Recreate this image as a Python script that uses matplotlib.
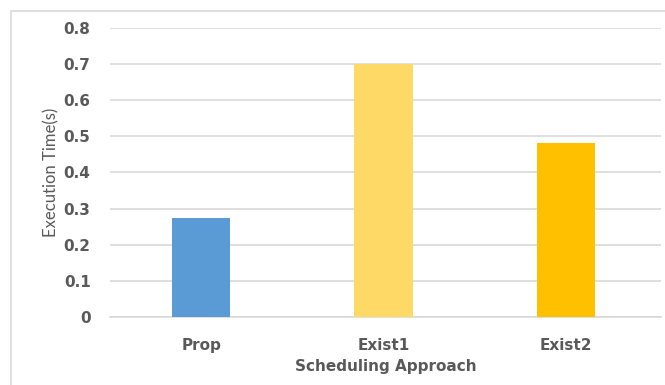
import matplotlib.pyplot as plt
from matplotlib.patches import Rectangle

approaches = ["Prop", "Exist1", "Exist2"]
exec_time = [0.273, 0.700, 0.481]
bar_colors = ["#5B9BD5", "#FFD966", "#FFC000"]
yticks = [0, 0.1, 0.2, 0.3, 0.4, 0.5, 0.6, 0.7, 0.8]
ytick_labels = ["0", "0.1", "0.2", "0.3", "0.4", "0.5", "0.6", "0.7", "0.8"]

plt.rcParams["font.family"] = ["DejaVu Sans"]
text_color = "#595959"

fig = plt.figure(figsize=(6.65, 3.85), dpi=100)
ax = fig.add_axes([110 / 665, (385 - 316.7) / 385, 551 / 665, 288.4 / 385])

# light chart-area frame (only left and top edges fall inside the image)
fig.patches.append(Rectangle((10.5 / 665, -0.1), 1.2, (385 - 11) / 385 + 0.1,
                             transform=fig.transFigure, fill=False,
                             edgecolor="#D9D9D9", linewidth=1.2))

x = range(len(approaches))
ax.bar(x, exec_time, width=0.32, color=bar_colors, zorder=3)

ax.set_xlim(-0.5, 2.52)
ax.set_ylim(0, 0.8)
ax.set_yticks(yticks)
ax.set_yticklabels(ytick_labels)
ax.set_xticks(list(x))
ax.set_xticklabels(approaches)

ax.yaxis.grid(True, color="#D9D9D9", linewidth=1.2, zorder=0)
ax.set_axisbelow(True)
for s in ["top", "right", "left"]:
    ax.spines[s].set_visible(False)
ax.spines["bottom"].set_color("#D9D9D9")
ax.spines["bottom"].set_linewidth(1.2)
ax.spines["bottom"].set_zorder(1)

ax.tick_params(axis="both", length=0, labelsize=11, colors=text_color)
ax.tick_params(axis="y", pad=14)
ax.tick_params(axis="x", pad=15)
for lbl in ax.get_xticklabels() + ax.get_yticklabels():
    lbl.set_fontweight("bold")

ax.set_ylabel("Execution Time(s)", fontsize=12, color=text_color,
              family=["Lato", "DejaVu Sans"], labelpad=3)
ax.set_xlabel("Scheduling Approach", fontsize=11, fontweight="bold",
              color=text_color, labelpad=5)

fig.savefig("out.png", dpi=100, facecolor="white")
